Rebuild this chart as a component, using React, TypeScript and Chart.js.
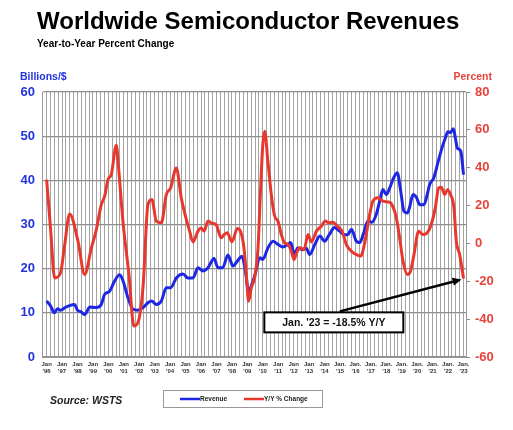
import React, { useEffect, useRef } from "react";
import { Chart, registerables } from "chart.js";

Chart.register(...registerables);

// ---- Data ----
const revenueYears = [
  1996.0, 1996.25, 1996.5, 1996.7, 1996.9, 1997.2, 1997.4, 1997.8, 1998.0, 1998.25, 1998.46, 1998.8,
  1999.2, 1999.54, 1999.76, 2000.08, 2000.4, 2000.73, 2000.95, 2001.27, 2001.6, 2001.9, 2002.24, 2002.6,
  2002.8, 2003.1, 2003.43, 2003.75, 2004.03, 2004.4, 2004.83, 2005.15, 2005.48, 2005.8, 2006.13, 2006.45,
  2006.84, 2007.1, 2007.4, 2007.74, 2008.07, 2008.35, 2008.65, 2008.85, 2009.08, 2009.3, 2009.5, 2009.8,
  2010.0, 2010.33, 2010.66, 2010.98, 2011.3, 2011.63, 2011.8, 2012.06, 2012.26, 2012.6, 2012.8, 2013.04,
  2013.37, 2013.7, 2014.0, 2014.3, 2014.65, 2014.97, 2015.3, 2015.5, 2015.74, 2016.06, 2016.28, 2016.5,
  2016.81, 2017.07, 2017.35, 2017.57, 2017.78, 2018.0, 2018.22, 2018.43, 2018.71, 2018.93, 2019.14, 2019.36,
  2019.5, 2019.73, 2019.95, 2020.16, 2020.44, 2020.65, 2020.8, 2021.08, 2021.34, 2021.6, 2021.82, 2021.99,
  2022.15, 2022.34, 2022.47, 2022.6, 2022.82, 2023.0,
];
const revenueValues = [
  12.7, 11.6, 10.0, 10.9, 10.6, 11.2, 11.5, 11.9, 10.6, 10.2, 9.6, 11.3,
  11.2, 11.9, 14.2, 14.9, 17.2, 18.6, 17.2, 13.4, 10.8, 10.6, 11.2, 12.4,
  12.7, 11.9, 12.7, 15.7, 15.7, 17.9, 18.8, 17.9, 17.9, 20.2, 19.5, 20.2,
  22.3, 20.2, 20.2, 23.1, 20.6, 21.7, 22.8, 20.0, 14.9, 16.5, 18.7, 22.5,
  22.1, 24.7, 26.2, 25.5, 24.9, 25.5, 25.9, 23.2, 24.7, 24.3, 24.7, 23.2,
  25.5, 27.4, 26.2, 27.7, 29.3, 28.5, 27.7, 27.7, 28.9, 26.2, 25.9, 27.7,
  30.8, 30.5, 32.3, 35.3, 37.9, 36.8, 38.3, 40.2, 41.7, 37.6, 33.0, 32.6,
  33.8, 36.8, 36.1, 34.5, 34.5, 36.8, 39.0, 40.6, 44.0, 47.3, 49.6, 51.0,
  50.8, 51.7, 49.6, 47.3, 46.6, 41.3,
];

const yoyYears = [
  1996.0, 1996.25, 1996.52, 1996.9, 1997.15, 1997.49, 1998.03, 1998.46, 1998.9, 1999.2, 1999.54, 1999.76,
  1999.97, 2000.19, 2000.51, 2000.66, 2000.94, 2001.33, 2001.65, 2001.91, 2002.24, 2002.56, 2002.82, 2003.1,
  2003.43, 2003.75, 2004.03, 2004.4, 2004.72, 2004.95, 2005.26, 2005.48, 2005.8, 2006.0, 2006.2, 2006.45,
  2006.65, 2006.99, 2007.3, 2007.5, 2007.7, 2008.0, 2008.35, 2008.55, 2008.78, 2008.93, 2009.08, 2009.26,
  2009.47, 2009.69, 2009.86, 2010.0, 2010.12, 2010.33, 2010.55, 2010.77, 2010.98, 2011.2, 2011.41, 2011.63,
  2011.85, 2012.02, 2012.15, 2012.39, 2012.67, 2012.93, 2013.15, 2013.47, 2013.79, 2014.05, 2014.26, 2014.54,
  2014.83, 2015.13, 2015.41, 2015.74, 2016.06, 2016.34, 2016.6, 2016.92, 2017.13, 2017.45, 2017.78, 2018.1,
  2018.3, 2018.65, 2018.86, 2019.08, 2019.36, 2019.57, 2019.79, 2020.09, 2020.37, 2020.65, 2020.91, 2021.17,
  2021.39, 2021.56, 2021.78, 2021.95, 2022.16, 2022.38, 2022.53, 2022.75, 2023.0,
];
const yoyValues = [
  33.7, 8.2, -18.2, -15.5, -2.0, 15.6, 1.2, -16.4, -2.3, 6.6, 20.5, 25.0,
  33.7, 36.4, 51.9, 39.9, 11.8, -16.4, -43.6, -41.9, -23.4, 20.5, 23.2, 11.8,
  10.9, 25.8, 29.3, 39.9, 24.0, 15.8, 6.5, 0.8, 6.5, 8.2, 6.5, 11.8,
  10.9, 9.7, 3.0, 4.7, 5.6, 0.8, 7.9, 6.5, -2.3, -16.4, -30.5, -23.4,
  -18.2, -2.3, 29.3, 52.2, 59.3, 43.4, 25.8, 14.4, 11.8, 4.7, 0.3, -0.5,
  -4.1, -8.5, -5.9, -2.3, -3.2, 4.7, 0.8, 6.5, 9.1, 11.8, 10.9, 11.2,
  9.1, 6.5, -0.6, -4.1, -5.9, -6.7, 0.3, 15.2, 22.3, 24.1, 22.3, 21.9,
  21.2, 13.5, 3.0, -9.3, -16.4, -14.6, -5.9, 6.5, 4.7, 5.6, 10.0, 18.8,
  29.3, 29.7, 25.8, 28.4, 25.8, 18.8, 1.2, -5.9, -18.5,
];

const firstYear = 1996;
const lastYear = 2023;
const leftTicks = [0, 10, 20, 30, 40, 50, 60];
const rightTicks = [-60, -40, -20, 0, 20, 40, 60, 80];

const TITLE = "Worldwide Semiconductor Revenues";
const SUBTITLE = "Year-to-Year Percent Change";
const LEFT_AXIS_TITLE = "Billions/$";
const RIGHT_AXIS_TITLE = "Percent";
const SOURCE = "Source: WSTS";
const ANNOTATION = "Jan. '23 = -18.5% Y/Y";
const ANNOT_YEAR = 2014.6;
const ANNOT_PCT = -41.7;

const BLUE = "#1c26e4";
const RED = "#e8382d";
const BLUE_TEXT = "#2233dd";
const RED_TEXT = "#e8433a";
const FONT = '"Liberation Sans", Arial, sans-serif';

const overlayPlugin = {
  id: "overlay",
  afterDraw(chart: any) {
    const ctx = chart.ctx as CanvasRenderingContext2D;
    ctx.save();
    ctx.textBaseline = "alphabetic";
    // Titles
    ctx.fillStyle = "#000";
    ctx.textAlign = "left";
    ctx.font = `bold 24px ${FONT}`;
    ctx.fillText(TITLE, 37, 29);
    ctx.font = `bold 10px ${FONT}`;
    ctx.fillText(SUBTITLE, 37, 47);
    // Axis titles
    ctx.font = `bold 10.5px ${FONT}`;
    ctx.fillStyle = BLUE_TEXT;
    ctx.fillText(LEFT_AXIS_TITLE, 20, 80);
    ctx.fillStyle = RED_TEXT;
    ctx.textAlign = "right";
    ctx.fillText(RIGHT_AXIS_TITLE, 492, 80);

    // Annotation box and arrow
    const xs = chart.scales.x;
    const y1 = chart.scales.y1;
    const n = yoyYears.length - 1;
    const px = xs.getPixelForValue(yoyYears[n]);
    const py = y1.getPixelForValue(yoyValues[n]);
    const bx = xs.getPixelForValue(ANNOT_YEAR);
    const by = y1.getPixelForValue(ANNOT_PCT);
    const bw = 139;
    const bh = 20;
    // arrow
    const sx = bx + 6;
    const sy = by - bh / 2 - 1;
    const ex = px - 2;
    const ey = py + 1;
    const ang = Math.atan2(ey - sy, ex - sx);
    const headLen = 9;
    const headW = 4;
    const bxh = ex - headLen * Math.cos(ang);
    const byh = ey - headLen * Math.sin(ang);
    ctx.strokeStyle = "#000";
    ctx.lineWidth = 2.5;
    ctx.beginPath();
    ctx.moveTo(sx, sy);
    ctx.lineTo(bxh, byh);
    ctx.stroke();
    ctx.fillStyle = "#000";
    ctx.beginPath();
    ctx.moveTo(ex, ey);
    ctx.lineTo(bxh + headW * Math.sin(ang), byh - headW * Math.cos(ang));
    ctx.lineTo(bxh - headW * Math.sin(ang), byh + headW * Math.cos(ang));
    ctx.closePath();
    ctx.fill();
    // box
    ctx.fillStyle = "#fff";
    ctx.fillRect(bx - bw / 2, by - bh / 2, bw, bh);
    ctx.lineWidth = 2;
    ctx.strokeStyle = "#000";
    ctx.strokeRect(bx - bw / 2, by - bh / 2, bw, bh);
    ctx.fillStyle = "#111";
    ctx.textAlign = "center";
    ctx.textBaseline = "middle";
    ctx.font = `bold 10.5px ${FONT}`;
    ctx.fillText(ANNOTATION, bx, by + 0.5);

    // Source
    ctx.textBaseline = "alphabetic";
    ctx.textAlign = "left";
    ctx.fillStyle = "#222";
    ctx.font = `italic bold 10.5px ${FONT}`;
    ctx.fillText(SOURCE, 50, 404);

    // Legend
    ctx.strokeStyle = "#999";
    ctx.lineWidth = 1;
    ctx.strokeRect(163.5, 390.5, 159, 17);
    const items = [
      { ds: chart.data.datasets[0], x: 180 },
      { ds: chart.data.datasets[1], x: 244 },
    ];
    ctx.font = `bold 6.5px ${FONT}`;
    ctx.textBaseline = "middle";
    items.forEach((it) => {
      ctx.strokeStyle = it.ds.borderColor;
      ctx.lineWidth = 2.5;
      ctx.beginPath();
      ctx.moveTo(it.x, 399);
      ctx.lineTo(it.x + 20, 399);
      ctx.stroke();
      ctx.fillStyle = "#222";
      ctx.fillText(it.ds.label, it.x + 20, 399);
    });
    ctx.restore();
  },
};

export default function App() {
  const canvasRef = useRef<HTMLCanvasElement | null>(null);

  useEffect(() => {
    if (!canvasRef.current) return;
    const quarterTicks: { value: number }[] = [];
    for (let i = 0; i <= (lastYear - firstYear) * 4; i++) {
      quarterTicks.push({ value: firstYear + i * 0.25 });
    }
    const chart = new Chart(canvasRef.current, {
      type: "line",
      data: {
        datasets: [
          {
            label: "Revenue",
            data: revenueYears.map((x, i) => ({ x, y: revenueValues[i] })),
            borderColor: BLUE,
            backgroundColor: BLUE,
            borderWidth: 3,
            pointRadius: 0,
            tension: 0.3,
            cubicInterpolationMode: "monotone",
            yAxisID: "y",
            order: 1,
          },
          {
            label: "Y/Y % Change",
            data: yoyYears.map((x, i) => ({ x, y: yoyValues[i] })),
            borderColor: RED,
            backgroundColor: RED,
            borderWidth: 3,
            pointRadius: 0,
            tension: 0.3,
            cubicInterpolationMode: "monotone",
            yAxisID: "y1",
            order: 0,
          },
        ],
      },
      options: {
        responsive: false,
        animation: false,
        devicePixelRatio: 1,
        layout: { padding: { top: 92, bottom: 53, left: 0, right: 0 } },
        plugins: {
          legend: { display: false },
          title: { display: false },
          tooltip: { enabled: false },
        },
        scales: {
          x: {
            type: "linear",
            min: 1995.7,
            max: 2023.16,
            afterBuildTicks: (scale: any) => {
              scale.ticks = quarterTicks.map((t) => ({ value: t.value }));
            },
            afterFit: (scale: any) => {
              scale.height = 20;
            },
            grid: {
              color: "#a3a3a3",
              lineWidth: 1,
              drawTicks: false,
            },
            border: { color: "#999", width: 1 },
            ticks: {
              autoSkip: false,
              maxRotation: 0,
              minRotation: 0,
              padding: 4,
              color: "#333",
              font: { family: FONT, size: 6, weight: "bold", lineHeight: 1.2 },
              callback: (value: any) => {
                const v = Number(value);
                if (Math.abs(v - Math.round(v)) > 1e-6) return "";
                const yr = Math.round(v);
                const yy = String(yr % 100).padStart(2, "0");
                return [yr >= 2015 ? "Jan." : "Jan", "'" + yy];
              },
            },
          },
          y: {
            type: "linear",
            position: "left",
            min: 0,
            max: 60,
            afterBuildTicks: (scale: any) => {
              scale.ticks = leftTicks.map((v) => ({ value: v }));
            },
            afterFit: (scale: any) => {
              scale.width = 42;
            },
            grid: { color: "#8f8f8f", lineWidth: 1.2, drawTicks: false },
            border: { color: "#999", width: 1 },
            ticks: {
              padding: 7,
              color: BLUE_TEXT,
              font: { family: FONT, size: 13, weight: "bold" },
            },
          },
          y1: {
            type: "linear",
            position: "right",
            min: -60,
            max: 80,
            afterBuildTicks: (scale: any) => {
              scale.ticks = rightTicks.map((v) => ({ value: v }));
            },
            afterFit: (scale: any) => {
              scale.width = 47;
            },
            grid: {
              drawOnChartArea: false,
              drawTicks: true,
              tickLength: 4,
              color: "#888",
            },
            border: { color: "#999", width: 1 },
            ticks: {
              padding: 5,
              color: RED_TEXT,
              font: { family: FONT, size: 13, weight: "bold" },
            },
          },
        },
      },
      plugins: [overlayPlugin],
    } as any);
    return () => chart.destroy();
  }, []);

  return (
    <div style={{ position: "absolute", left: 0, top: 0, width: 513, height: 430, background: "#fff" }}>
      <canvas ref={canvasRef} width={513} height={430} style={{ display: "block" }} />
    </div>
  );
}
